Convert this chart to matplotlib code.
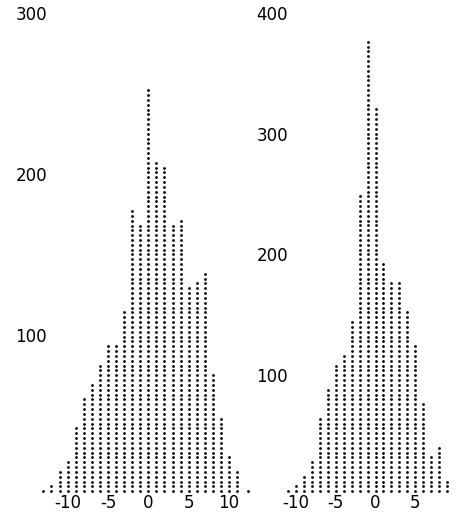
import numpy as np
import matplotlib.pyplot as plt

# left histogram: bin centre and count
left_x = list(range(-13, 12))
left_counts = [4, 6, 15, 21, 42, 61, 69, 81, 93, 93, 114, 177, 168, 252,
               207, 204, 168, 171, 129, 131, 137, 75, 47, 23, 14]
left_step = 3      # counts per dot
left_yticks = [100, 200, 300]
left_xticks = [-10, -5, 0, 5, 10]

# right histogram
right_x = [-16] + list(range(-11, 10))
right_counts = [4, 4, 8, 15, 27, 63, 86, 107, 115, 143, 246, 375, 318,
                190, 178, 175, 154, 123, 75, 30, 42, 11]
right_step = 4
right_yticks = [100, 200, 300, 400]
right_xticks = [-10, -5, 0, 5]


def dot_columns(xs, counts, step):
    px, py = [], []
    for x, c in zip(xs, counts):
        n = max(1, int(round(c / step)))
        for k in range(1, n + 1):
            px.append(x)
            py.append(k * step)
    return px, py


W, H = 457, 516
fig = plt.figure(figsize=(W / 100, H / 100), dpi=100)
plt.rcParams['font.family'] = ['DejaVu Sans']

# axes boxes in pixels: left, bottom, right, top
ax1 = fig.add_axes([54 / W, (H - 490) / H, (245 - 54) / W, 490 / H])
ax2 = fig.add_axes([296 / W, (H - 490) / H, (457 - 296) / W, 490 / H])

panels = [
    (ax1, left_x, left_counts, left_step, left_xticks, left_yticks,
     (-11.685, 11.983), (3.73, 308.07), 5),
    (ax2, right_x, right_counts, right_step, right_xticks, right_yticks,
     (-9.875, 10.25), (4.97, 410.6), 5.8),
]

for ax, xs, counts, step, xt, yt, xl, yl, ypad in panels:
    px, py = dot_columns(xs, counts, step)
    ax.scatter(px, py, s=4, c='black', marker='o', linewidths=0,
               clip_on=False)
    ax.set_xlim(*xl)
    ax.set_ylim(*yl)
    ax.set_xticks(xt)
    ax.set_xticklabels([str(v) for v in xt])
    ax.set_yticks(yt)
    ax.set_yticklabels([str(v) for v in yt])
    ax.tick_params(axis='x', length=0, pad=3, labelsize=12)
    ax.tick_params(axis='y', length=0, pad=ypad, labelsize=12)
    for s in ax.spines.values():
        s.set_visible(False)
    ax.patch.set_alpha(0)

fig.savefig('out.png', dpi=100, facecolor='white')
